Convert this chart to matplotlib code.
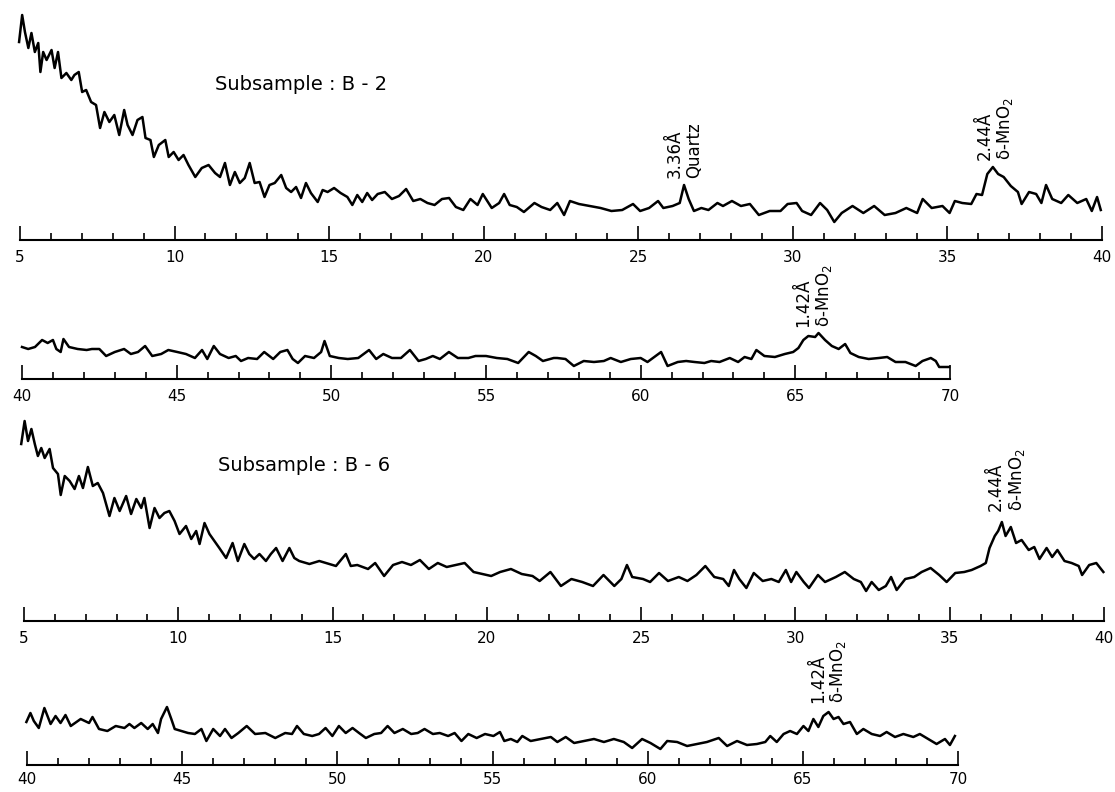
import numpy as np
from matplotlib import pyplot as plt
from matplotlib.ticker import MultipleLocator

plt.rcParams['font.family'] = ['DejaVu Sans']

# B-2, 5-40 deg 2theta (intensity = trace height above the base line)
b2_lo_deg = [4.97, 5.07, 5.16, 5.27, 5.37, 5.48, 5.59, 5.66, 5.75, 5.86,
             6.02, 6.12, 6.23, 6.34, 6.50, 6.66, 6.76, 6.90, 7.01, 7.14,
             7.30, 7.46, 7.59, 7.73, 7.89, 8.05, 8.21, 8.37, 8.48, 8.64,
             8.80, 8.96, 9.06, 9.22, 9.33, 9.49, 9.70, 9.81, 9.97, 10.13,
             10.29, 10.45, 10.67, 10.88, 11.10, 11.31, 11.47, 11.63, 11.79, 11.95,
             12.11, 12.27, 12.43, 12.59, 12.75, 12.91, 13.07, 13.24, 13.45, 13.61,
             13.77, 13.93, 14.09, 14.25, 14.41, 14.63, 14.79, 14.95, 15.16, 15.37,
             15.59, 15.75, 15.91, 16.07, 16.23, 16.39,
             16.57, 16.80, 17.03, 17.26, 17.49, 17.72, 17.95, 18.18, 18.41, 18.65,
             18.88, 19.10, 19.34, 19.57, 19.80, 19.97, 20.26, 20.50, 20.66, 20.84,
             21.07, 21.30, 21.64, 21.87,
             22.15, 22.38, 22.60, 22.79, 23.08, 23.43, 23.78, 24.13, 24.48, 24.83,
             25.06, 25.35, 25.64, 25.81, 26.11, 26.34, 26.48, 26.63, 26.80, 27.04,
             27.27, 27.56, 27.74, 28.03, 28.32, 28.61, 28.90, 29.25, 29.60, 29.83,
             30.12, 30.30, 30.59, 30.88, 31.11, 31.34, 31.58, 31.93, 32.28, 32.63,
             32.97, 33.32, 33.67, 34.02, 34.20, 34.49, 34.84, 35.07, 35.24, 35.48,
             35.77, 35.94, 36.12, 36.29, 36.47, 36.64, 36.82, 37.05, 37.28, 37.40,
             37.64, 37.87, 38.04, 38.19, 38.39, 38.68, 38.91, 39.20, 39.49, 39.67,
             39.84, 39.96]
b2_lo_int = [198, 225, 208, 192, 207, 188, 197, 168, 188, 180,
             190, 172, 188, 162, 167, 160, 165, 168, 148, 150,
             138, 135, 112, 128, 118, 125, 105, 130, 115, 105,
             120, 123, 102, 100, 83, 95, 100, 83, 88, 80,
             85, 75, 63, 72, 75, 67, 63, 77, 55, 68,
             57, 62, 77, 57, 58, 43, 55, 57, 65, 52,
             48, 53, 42, 57, 47, 38, 50, 48, 52, 47,
             43, 35, 45, 38, 47, 40,
             46, 48, 41, 44, 51, 39, 41, 37, 35, 41,
             42, 33, 30, 41, 35, 46, 32, 37, 46, 35,
             33, 28, 37, 33,
             30, 37, 25, 39, 36, 34, 32, 29, 30, 36,
             29, 32, 39, 32, 34, 37, 55, 41, 29, 32,
             30, 37, 34, 39, 34, 36, 25, 29, 29, 36,
             37, 29, 25, 37, 30, 18, 27, 34, 27, 34,
             25, 27, 32, 27, 41, 32, 34, 27, 39, 37,
             36, 46, 45, 66, 73, 66, 63, 54, 48, 36,
             48, 46, 37, 55, 41, 37, 45, 37, 41, 29,
             43, 30]

# B-2, 40-70 deg
b2_hi_deg = [40.00, 40.20, 40.42, 40.65, 40.83, 41.00, 41.11, 41.25, 41.34, 41.52,
             41.80, 42.09, 42.26, 42.50, 42.72, 43.00, 43.30, 43.52, 43.75, 43.98,
             44.21, 44.50, 44.73, 45.02, 45.30, 45.59, 45.82, 45.99, 46.20, 46.40,
             46.68, 46.91, 47.08, 47.31, 47.60, 47.83, 48.12, 48.35, 48.58, 48.75,
             48.92, 49.15, 49.44, 49.67, 49.78, 49.95, 50.24, 50.53, 50.87, 51.22,
             51.45, 51.68, 51.96, 52.25, 52.54, 52.82, 53.05, 53.28, 53.51, 53.80,
             54.09, 54.43, 54.66, 55.00, 55.35, 55.69, 56.04, 56.38, 56.61, 56.84,
             57.19,
             57.30, 57.57, 57.84, 58.16, 58.49, 58.81, 59.03, 59.36, 59.68, 60.00,
             60.22, 60.44, 60.66, 60.87, 61.20, 61.47, 61.74, 62.06, 62.28, 62.55,
             62.88, 63.15, 63.36, 63.58, 63.74, 64.00, 64.34, 64.66, 64.93, 65.10,
             65.26, 65.42, 65.64, 65.75, 65.96, 66.18, 66.40, 66.61, 66.78, 67.05,
             67.37, 67.70, 67.97, 68.24, 68.56, 68.89, 69.11, 69.38, 69.54, 69.65,
             69.97]
b2_hi_int = [32, 30, 32, 39, 36, 39, 30, 27, 40, 32,
             30, 29, 30, 30, 23, 27, 30, 25, 27, 33,
             23, 25, 29, 27, 25, 21, 29, 20, 33, 25,
             21, 23, 18, 21, 20, 27, 20, 27, 29, 20,
             16, 23, 21, 27, 38, 23, 21, 20, 21, 29,
             20, 25, 21, 21, 29, 18, 20, 23, 20, 27,
             21, 21, 23, 23, 21, 20, 16, 27, 23, 18,
             21,
             21, 20, 13, 18, 17, 18, 21, 17, 20, 21,
             17, 22, 27, 13, 17, 18, 17, 16, 18, 17,
             21, 17, 22, 20, 29, 23, 22, 25, 27, 31,
             39, 43, 42, 46, 39, 33, 30, 35, 26, 22,
             20, 21, 22, 17, 17, 13, 18, 21, 18, 12,
             12]

# B-6, 5-40 deg
b6_lo_deg = [4.91, 5.02, 5.13, 5.24, 5.35, 5.45, 5.56, 5.67, 5.83, 5.94,
             6.10, 6.19, 6.32, 6.48, 6.64, 6.78, 6.91, 7.07, 7.23, 7.39,
             7.56, 7.77, 7.93, 8.10, 8.31, 8.47, 8.64, 8.80, 8.90, 9.07,
             9.23, 9.39, 9.55, 9.71, 9.88, 10.04, 10.25, 10.42, 10.58, 10.69,
             10.85, 11.01, 11.17, 11.33, 11.55, 11.76, 11.93, 12.14, 12.30, 12.46,
             12.63, 12.84, 13.00, 13.17, 13.38, 13.60, 13.76, 13.92, 14.25, 14.57,
             14.89, 15.11, 15.43, 15.59,
             15.80, 16.15, 16.38, 16.67, 16.96, 17.25, 17.54, 17.83, 18.12, 18.41,
             18.70, 18.99, 19.28, 19.57, 19.86, 20.14, 20.43, 20.78, 21.13, 21.48,
             21.71, 22.06,
             22.40, 22.74, 23.09, 23.44, 23.78, 24.13, 24.36, 24.54, 24.71, 25.06,
             25.29, 25.58, 25.87, 26.22, 26.50, 26.79, 27.08, 27.37, 27.66, 27.84,
             28.01, 28.18, 28.41, 28.65, 28.94, 29.22, 29.46, 29.69, 29.86, 30.03,
             30.27, 30.44, 30.73, 30.96, 31.31, 31.60, 31.89, 32.12, 32.29, 32.47,
             32.70, 32.93, 33.10, 33.28, 33.56, 33.85, 34.09, 34.38, 34.66, 34.90,
             35.18, 35.47, 35.71, 36.00, 36.17, 36.29, 36.46, 36.57, 36.69, 36.81,
             36.98, 37.15, 37.33, 37.56, 37.74, 37.91, 38.14, 38.32, 38.49, 38.72,
             38.95, 39.18, 39.29, 39.52, 39.75, 39.98]
b6_lo_int = [177, 200, 180, 192, 177, 165, 173, 163, 172, 153,
             147, 126, 145, 140, 132, 145, 133, 154, 135, 138,
             128, 105, 123, 110, 125, 107, 122, 113, 123, 93,
             113, 103, 108, 110, 100, 87, 95, 82, 90, 77,
             98, 87, 80, 73, 63, 78, 60, 77, 67, 62,
             67, 60, 67, 73, 60, 73, 63, 60, 57, 60,
             57, 55, 67, 55,
             56, 52, 58, 45, 56, 59, 56, 61, 52, 58,
             54, 56, 58, 49, 47, 45, 49, 52, 47, 45,
             40, 49,
             35, 42, 39, 35, 46, 35, 42, 56, 44, 42,
             39, 48, 40, 44, 40, 46, 55, 44, 42, 35,
             51, 42, 33, 48, 40, 42, 39, 51, 39, 49,
             39, 33, 46, 39, 44, 49, 42, 39, 30, 39,
             31, 35, 44, 31, 42, 44, 49, 53, 46, 39,
             48, 49, 51, 55, 58, 73, 85, 90, 99, 85,
             94, 78, 81, 71, 74, 62, 73, 64, 71, 60,
             58, 55, 46, 56, 58, 49]

# B-6, 40-70 deg
b6_hi_deg = [39.98, 40.11, 40.22, 40.38, 40.56, 40.76, 40.92, 41.08, 41.24, 41.41,
             41.73, 42.00, 42.11, 42.32, 42.59, 42.86, 43.14, 43.30, 43.46, 43.68,
             43.89, 44.05, 44.22, 44.32, 44.51, 44.65, 44.76, 44.97, 45.19, 45.41,
             45.62, 45.78, 46.00, 46.22, 46.38, 46.59, 46.81, 47.08, 47.35, 47.68,
             48.00, 48.32, 48.54, 48.70, 48.92, 49.19, 49.41, 49.62, 49.84, 50.05,
             50.27, 50.49, 50.70, 50.92, 51.19, 51.41, 51.62, 51.84, 52.11, 52.38,
             52.59, 52.81, 53.08, 53.30, 53.57, 53.78, 54.00, 54.22, 54.49, 54.76,
             55.03, 55.24,
             55.38, 55.59, 55.80, 55.96, 56.23, 56.55, 56.88, 57.09, 57.36, 57.63,
             57.95, 58.27, 58.59, 58.91, 59.23, 59.50, 59.82, 60.09, 60.41, 60.63,
             60.95, 61.27, 61.59, 61.91, 62.29, 62.56, 62.88, 63.20, 63.52, 63.79,
             63.95, 64.16, 64.38, 64.59, 64.81, 65.02, 65.18, 65.34, 65.50, 65.66,
             65.83, 65.99, 66.15, 66.31, 66.52, 66.74, 66.95, 67.22, 67.49, 67.70,
             67.97, 68.24, 68.56, 68.77, 69.04, 69.31, 69.58, 69.74, 69.90]
b6_hi_int = [43, 52, 44, 37, 57, 41, 49, 42, 50, 39,
             46, 42, 48, 36, 34, 39, 37, 41, 37, 42,
             36, 41, 32, 46, 58, 46, 36, 34, 32, 31,
             36, 24, 36, 29, 36, 27, 32, 39, 31, 32,
             27, 32, 31, 39, 31, 29, 31, 37, 29, 39,
             32, 37, 32, 27, 31, 32, 39, 32, 36, 31,
             32, 36, 31, 32, 29, 32, 24, 31, 27, 31,
             29, 33,
             24, 26, 23, 29, 24, 26, 28, 23, 28, 22,
             24, 26, 23, 26, 23, 17, 26, 22, 16, 24,
             23, 19, 21, 23, 27, 19, 24, 20, 21, 23,
             29, 23, 31, 34, 31, 39, 34, 46, 38, 49,
             53, 46, 48, 41, 43, 31, 36, 31, 29, 33,
             28, 31, 28, 31, 26, 21, 26, 20, 29]

# peak labels: (2theta, height of label bottom, text)
b2_lo_peaks = [(26.48, 62, "3.36Å\nQuartz"), (36.55, 80, "2.44Å\nδ-MnO$_2$")]
b2_hi_peaks = [(65.6, 52, "1.42Å\nδ-MnO$_2$")]
b6_lo_peaks = [(36.85, 110, "2.44Å\nδ-MnO$_2$")]
b6_hi_peaks = [(65.83, 62, "1.42Å\nδ-MnO$_2$")]

W, H = 1115, 792
fig = plt.figure(figsize=(W / 100, H / 100), dpi=100)


def draw_panel(left, right, base, top, xlim, deg, inten, peaks, title=None, pad=7):
    ax = fig.add_axes([left / W, 1 - base / H, (right - left) / W, (base - top) / H])
    ax.plot(deg, inten, color='black', lw=1.8, clip_on=False)
    ax.set_xlim(*xlim)
    ax.set_ylim(0, base - top)
    for s in ['top', 'left', 'right']:
        ax.spines[s].set_visible(False)
    ax.spines['bottom'].set_linewidth(1.5)
    ax.set_yticks([])
    ax.xaxis.set_major_locator(MultipleLocator(5))
    ax.xaxis.set_minor_locator(MultipleLocator(1))
    ax.tick_params(axis='x', which='major', direction='in', length=10, width=1.2,
                   pad=pad, labelsize=11)
    ax.tick_params(axis='x', which='minor', direction='in', length=5, width=1.2)
    for x, y, txt in peaks:
        ax.text(x, y, txt, rotation=90, ha='center', va='bottom',
                multialignment='left', fontsize=12, linespacing=1.1)
    if title:
        ax.text(11.3, 155, title, ha='left', va='center', fontsize=14)
    return ax


draw_panel(20, 1102, 240, 5, (5, 40), b2_lo_deg, b2_lo_int, b2_lo_peaks,
           "Subsample : B - 2")
draw_panel(22, 950, 379, 300, (40, 70), b2_hi_deg, b2_hi_int, b2_hi_peaks)
draw_panel(24, 1104, 621, 418, (5, 40), b6_lo_deg, b6_lo_int, b6_lo_peaks,
           "Subsample : B - 6")
draw_panel(27, 958, 765, 673, (40, 70), b6_hi_deg, b6_hi_int, b6_hi_peaks, pad=5)

fig.savefig("out.png", dpi=100)
